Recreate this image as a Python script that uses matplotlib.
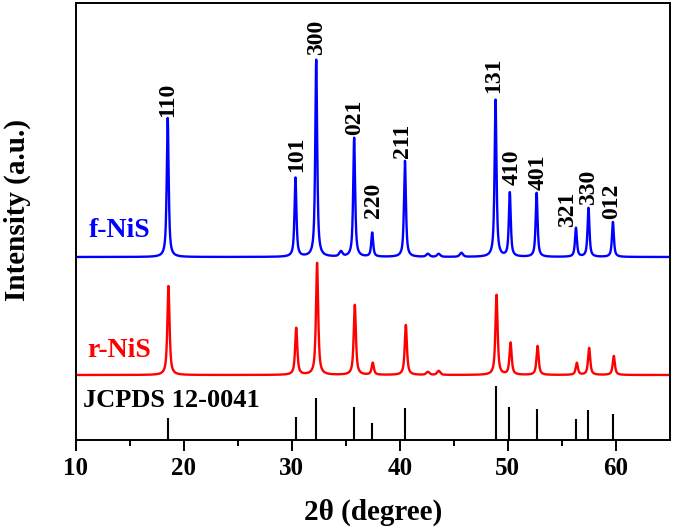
import numpy as np
import matplotlib
matplotlib.use("Agg")
import matplotlib.pyplot as plt

# ---------------- data ----------------
hkl = ["110", "101", "300", "021", "220", "211", "131", "410", "401", "321", "330", "012"]
ref_pos = [18.53, 30.38, 32.27, 35.76, 37.40, 40.48, 48.86, 50.12, 52.66, 56.28, 57.44, 59.73]
ref_int = [22, 23, 42, 33, 17, 32, 54, 33, 31, 21, 30, 26]

f_pos = [18.53, 30.35, 32.27, 35.78, 37.45, 40.48, 48.86, 50.18, 52.66, 56.30, 57.46, 59.72]
f_int = [139, 79, 197, 119, 24, 96, 157, 64, 64, 29, 49, 35]
f_minor_pos = [34.55, 42.6, 43.6, 45.7]
f_minor_int = [5, 3, 3, 4]
f_base = 183

r_pos = [18.60, 30.42, 32.35, 35.84, 37.50, 40.56, 48.95, 50.25, 52.75, 56.38, 57.52, 59.80]
r_int = [89, 47, 112, 70, 12, 50, 80, 32, 29, 12, 27, 19]
r_minor_pos = [42.6, 43.6]
r_minor_int = [3, 4]
r_base = 65

# hkl label anchor points (x, bottom y)
lab_x = [18.5, 30.5, 32.3, 35.8, 37.55, 40.25, 48.65, 50.4, 52.8, 55.55, 57.45, 59.6]
lab_y = [323, 268, 385, 305, 222, 282, 347, 255, 250, 213, 235, 221]

xticks = [10, 20, 30, 40, 50, 60]


def pvoigt(x, c, h, w, eta):
    d = (x - c) / w
    return h * (eta / (1 + (2 * d) ** 2) + (1 - eta) * np.exp(-4 * np.log(2) * d ** 2))


def pattern(x, pos, inten, mpos, mint, base, w):
    y = np.full_like(x, float(base))
    for c, h in zip(pos, inten):
        y += pvoigt(x, c, h, w, 0.8)
    for c, h in zip(mpos, mint):
        y += pvoigt(x, c, h, 0.35, 0.5)
    return y


x = np.arange(10, 65.001, 0.01)
y_f = pattern(x, f_pos, f_int, f_minor_pos, f_minor_int, f_base, 0.21)
y_r = pattern(x, r_pos, r_int, r_minor_pos, r_minor_int, r_base, 0.24)

plt.rcParams['font.family'] = ['Liberation Serif', 'DejaVu Serif']
plt.rcParams['font.weight'] = 'bold'

fig = plt.figure(figsize=(6.75, 5.3), dpi=100)
ax = fig.add_axes([75.5 / 675, 90 / 530, (670 - 75.5) / 675, 437 / 530])

ax.plot(x, y_f, color='#0000ff', lw=1.7)
ax.plot(x, y_r, color='#ff0000', lw=1.7)
ax.vlines(ref_pos, 0, ref_int, color='black', lw=1.5)

for t, lx, ly in zip(hkl, lab_x, lab_y):
    ax.text(lx, ly, t, rotation=90, ha='center', va='bottom', fontsize=17,
            fontweight='bold', color='black')

ax.text(11.2, 203, "f-NiS", color='#0000ff', fontsize=20, fontweight='bold', va='baseline')
ax.text(11.1, 83, "r-NiS", color='#ff0000', fontsize=20, fontweight='bold', va='baseline')
ax.text(10.65, 33, "JCPDS 12-0041", color='black', fontsize=19, fontweight='bold', va='baseline')

ax.set_xlim(10, 65)
ax.set_ylim(0, 437)
ax.set_xticks(xticks)
ax.set_xticks(np.arange(15, 65, 10), minor=True)
ax.set_yticks([])
ax.tick_params(axis='x', which='major', direction='out', length=8, width=1.4,
               labelsize=18, pad=4)
ax.tick_params(axis='x', which='minor', direction='out', length=4, width=1.4)
for lab in ax.get_xticklabels():
    lab.set_fontweight('bold')
for s in ax.spines.values():
    s.set_linewidth(1.4)

ax.set_xlabel("2θ (degree)", fontsize=21, fontweight='bold')
ax.xaxis.label.set_va('center')
ax.xaxis.set_label_coords(0.5, -0.165)
ax.set_ylabel("Intensity (a.u.)", fontsize=21, fontweight='bold')
ax.yaxis.label.set_va('center')
ax.yaxis.set_label_coords(-0.097, 0.526)

fig.savefig("out.png", dpi=100)
